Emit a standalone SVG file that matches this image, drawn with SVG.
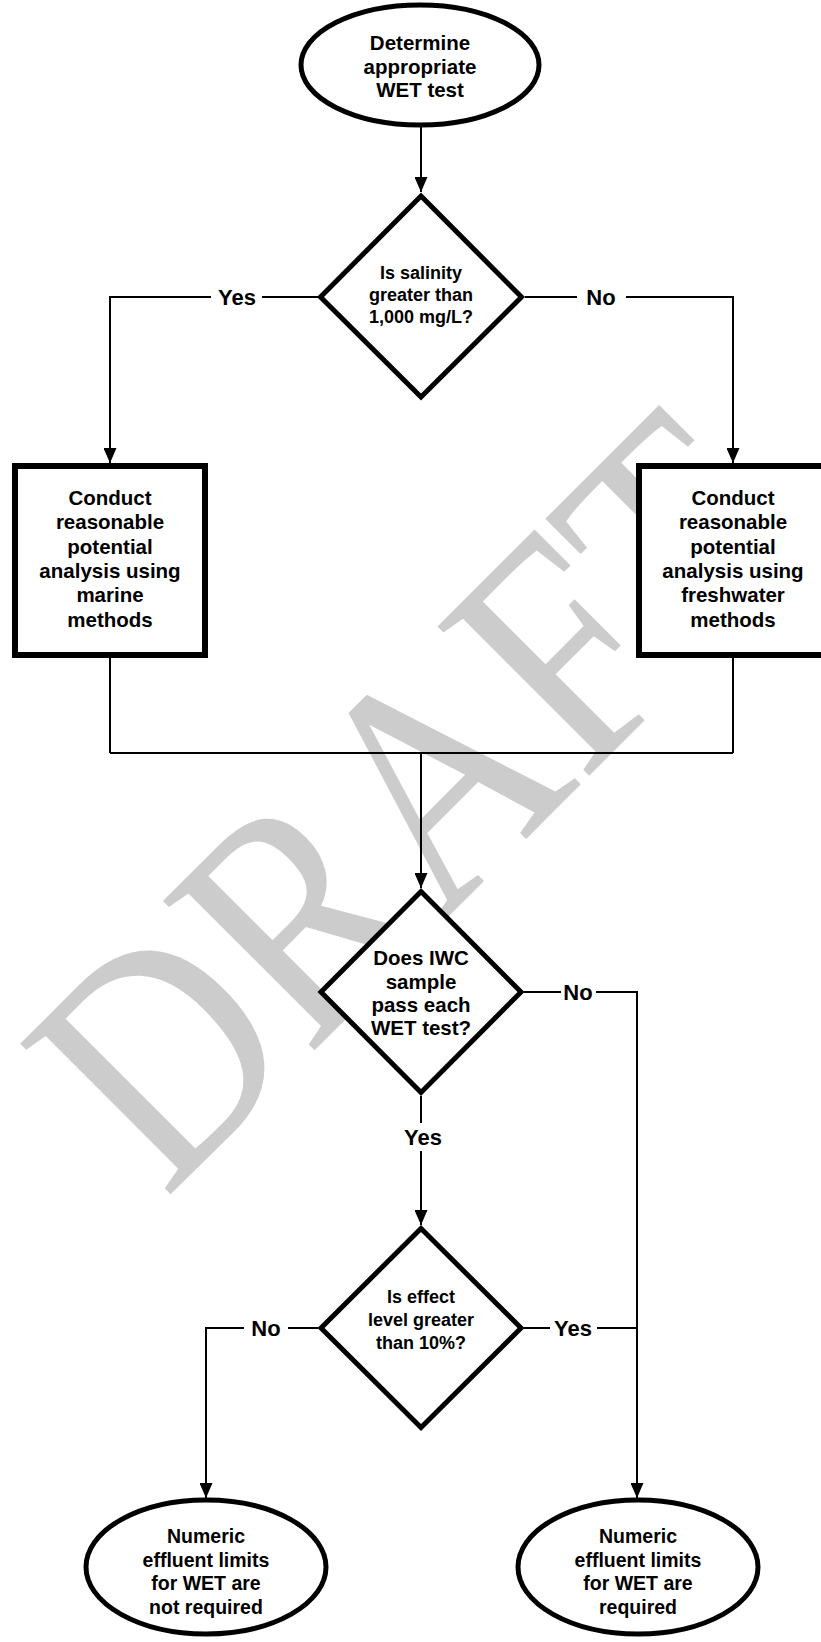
<svg xmlns="http://www.w3.org/2000/svg" width="821" height="1642" viewBox="0 0 821 1642">
<style>
.shape{fill:#fff;stroke:#000;stroke-width:5;stroke-linejoin:miter}
.box{fill:#fff;stroke:#000;stroke-width:6}
.ln{fill:none;stroke:#000;stroke-width:2}
.t{font-family:"Liberation Sans",Arial,sans-serif;font-weight:bold;fill:#000;text-anchor:middle}
.lbl{font-family:"Liberation Sans",Arial,sans-serif;font-weight:bold;fill:#000;text-anchor:middle;font-size:22px}
.wm{font-family:"Liberation Serif","Times New Roman",serif;fill:#cccccc}
</style>
<defs>
<marker id="ah" markerUnits="userSpaceOnUse" viewBox="0 0 15 13" refX="15" refY="6.5" markerWidth="15" markerHeight="13" orient="auto">
<path d="M0,0 L15,6.5 L0,13 z" fill="#000"/>
</marker>
</defs>
<g id="watermark">
<text class="wm" font-size="325" transform="translate(165,1200) rotate(-45) scale(0.86,1)">DRAFT</text>
</g>
<g id="connectors">
<line class="ln" x1="421" y1="127" x2="421" y2="192" marker-end="url(#ah)"/>
<polyline class="ln" points="318,297 262,297"/>
<polyline class="ln" points="211,297 110,297 110,463" marker-end="url(#ah)"/>
<polyline class="ln" points="525,297 577,297"/>
<polyline class="ln" points="626,297 733,297 733,463" marker-end="url(#ah)"/>
<line class="ln" x1="110" y1="658" x2="110" y2="753"/>
<line class="ln" x1="733" y1="658" x2="733" y2="753"/>
<line class="ln" x1="110" y1="753" x2="733" y2="753"/>
<line class="ln" x1="421" y1="753" x2="421" y2="888" marker-end="url(#ah)"/>
<polyline class="ln" points="524,992 561,992"/>
<polyline class="ln" points="596,992 637,992 637,1498" marker-end="url(#ah)"/>
<line class="ln" x1="421" y1="1096" x2="421" y2="1123"/>
<line class="ln" x1="421" y1="1151" x2="421" y2="1225" marker-end="url(#ah)"/>
<polyline class="ln" points="318,1328 288,1328"/>
<polyline class="ln" points="244,1328 206,1328 206,1498" marker-end="url(#ah)"/>
<polyline class="ln" points="524,1328 550,1328"/>
<polyline class="ln" points="597,1328 637,1328"/>
<text class="lbl" x="237" y="305">Yes</text>
<text class="lbl" x="601" y="305">No</text>
<text class="lbl" x="578" y="1000">No</text>
<text class="lbl" x="423" y="1145">Yes</text>
<text class="lbl" x="266" y="1336">No</text>
<text class="lbl" x="573" y="1336">Yes</text>
</g>
<g id="start">
<ellipse class="shape" cx="420" cy="65" rx="119" ry="60"/>
<text class="t" font-size="20.5"><tspan x="420" y="50">Determine</tspan><tspan x="420" y="73.5">appropriate</tspan><tspan x="420" y="97">WET test</tspan></text>
</g>
<g id="salinity">
<path class="shape" d="M421,196 L521.5,297 L421,397 L320.5,297 Z"/>
<text class="t" font-size="18"><tspan x="421" y="278.5">Is salinity</tspan><tspan x="421" y="300.5">greater than</tspan><tspan x="421" y="322.5">1,000 mg/L?</tspan></text>
</g>
<g id="marine">
<rect class="box" x="15" y="466" width="190" height="189"/>
<text class="t" font-size="20.5"><tspan x="110" y="505">Conduct</tspan><tspan x="110" y="529">reasonable</tspan><tspan x="110" y="554">potential</tspan><tspan x="110" y="578">analysis using</tspan><tspan x="110" y="602">marine</tspan><tspan x="110" y="627">methods</tspan></text>
</g>
<g id="freshwater">
<rect class="box" x="639" y="466" width="190" height="189"/>
<text class="t" font-size="20.5"><tspan x="733" y="505">Conduct</tspan><tspan x="733" y="529">reasonable</tspan><tspan x="733" y="554">potential</tspan><tspan x="733" y="578">analysis using</tspan><tspan x="733" y="602">freshwater</tspan><tspan x="733" y="627">methods</tspan></text>
</g>
<g id="iwc">
<path class="shape" d="M421,891.5 L521,992 L421,1092.5 L321,992 Z"/>
<text class="t" font-size="20.5"><tspan x="421" y="965">Does IWC</tspan><tspan x="421" y="988.5">sample</tspan><tspan x="421" y="1012">pass each</tspan><tspan x="421" y="1035">WET test?</tspan></text>
</g>
<g id="effect">
<path class="shape" d="M421,1228.5 L521,1328 L421,1427.5 L321,1328 Z"/>
<text class="t" font-size="18"><tspan x="421" y="1303">Is effect</tspan><tspan x="421" y="1326">level greater</tspan><tspan x="421" y="1349">than 10%?</tspan></text>
</g>
<g id="not-required">
<ellipse class="shape" cx="206" cy="1567" rx="120" ry="67"/>
<text class="t" font-size="19.5"><tspan x="206" y="1543">Numeric</tspan><tspan x="206" y="1566.5">effluent limits</tspan><tspan x="206" y="1590">for WET are</tspan><tspan x="206" y="1613.5">not required</tspan></text>
</g>
<g id="required">
<ellipse class="shape" cx="638" cy="1567" rx="120" ry="67"/>
<text class="t" font-size="19.5"><tspan x="638" y="1543">Numeric</tspan><tspan x="638" y="1566.5">effluent limits</tspan><tspan x="638" y="1590">for WET are</tspan><tspan x="638" y="1613.5">required</tspan></text>
</g>
</svg>
